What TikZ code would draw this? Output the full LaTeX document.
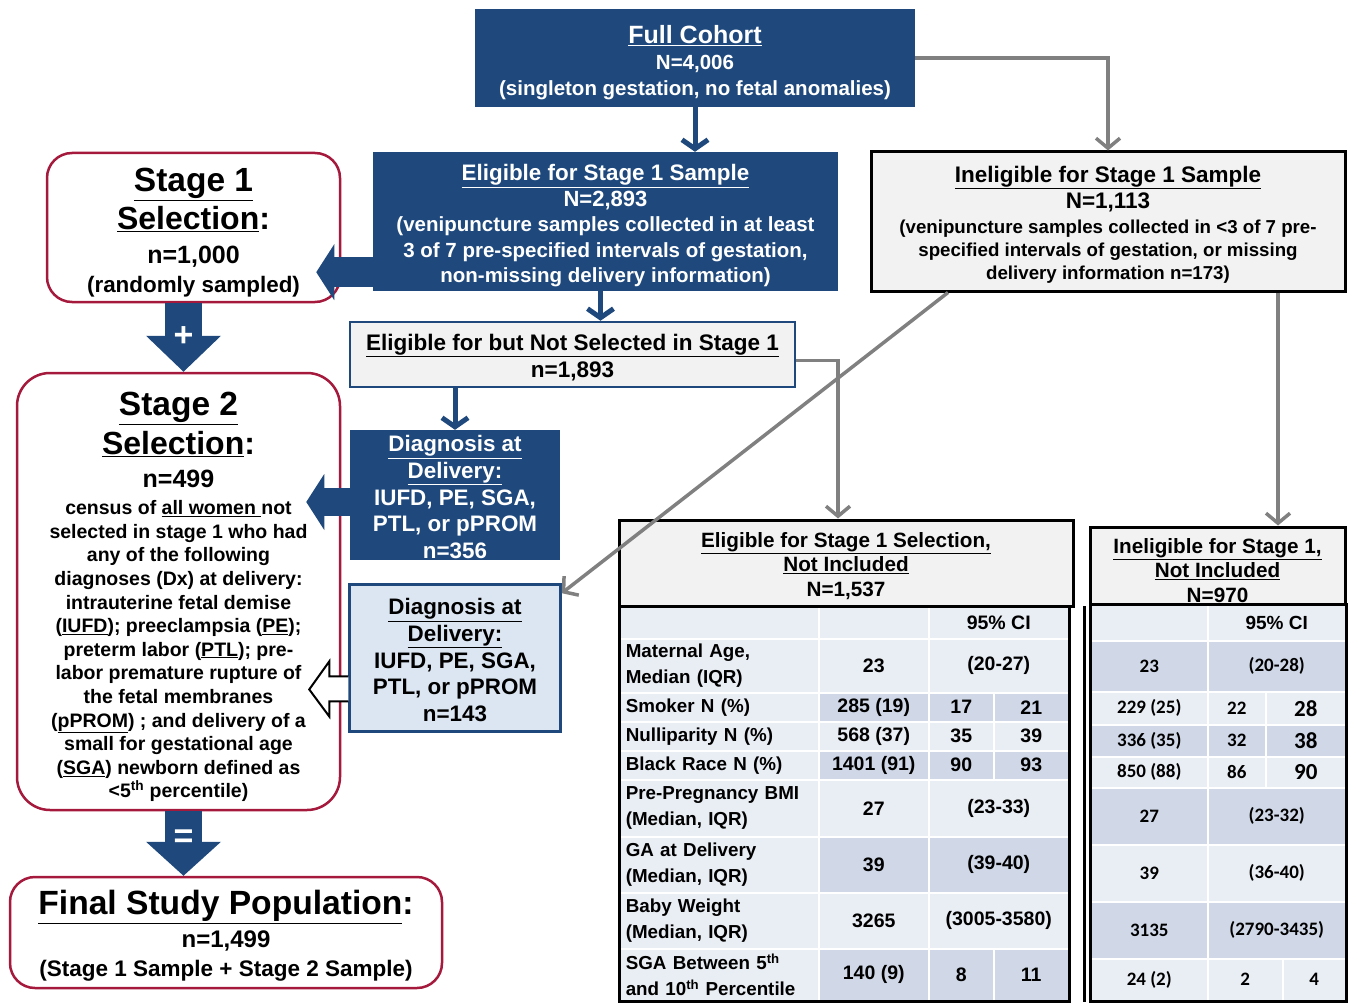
\documentclass[tikz,border=0pt]{standalone}
\usepackage{fontspec}
\setmainfont{Liberation Sans}
\newfontfamily\califont{Carlito}
\usetikzlibrary{arrows.meta,positioning,calc}

\definecolor{boxblue}{RGB}{31,73,125}
\definecolor{stagered}{RGB}{165,25,60}
\definecolor{arrgray}{RGB}{128,128,128}
\definecolor{boxgray}{RGB}{242,242,242}
\definecolor{dxlight}{RGB}{220,230,242}
\definecolor{tlite}{RGB}{233,237,244}
\definecolor{tmid}{RGB}{208,216,232}

\newcommand{\fsz}[2]{\fontsize{#1}{#2}\selectfont}
\newcommand{\topstrut}[1]{\rule{0pt}{#1}}
\lineskiplimit=-100pt

\tikzset{
  darkbox/.style={fill=boxblue, text=white, inner sep=0pt, align=center},
  lightbox/.style={draw=boxblue, line width=2.5pt, fill=boxgray, inner sep=0pt, align=center},
  dxbox/.style={draw=boxblue, line width=2.5pt, fill=dxlight, inner sep=0pt, align=center},
  blackbox/.style={draw=black, line width=3pt, fill=boxgray, inner sep=0pt, align=center},
  stagebox/.style={draw=stagered, line width=2.5pt, fill=white, inner sep=0pt, align=center},
  hdbox/.style={blackbox, font=\bfseries\fsz{20.7}{24.5}},
  tcell/.style={draw=white, line width=1.5pt, inner sep=0pt, anchor=north west, font=\bfseries\fsz{19.5}{23}},
  tlabel/.style={tcell, fill=tlite, minimum width=199pt, inner xsep=6pt, text width=187pt, align=left, font=\bfseries\fsz{18.8}{26}},
  tcell2/.style={tcell, font=\califont\bfseries\fsz{19}{23}},
  tframe/.style={draw=black, line width=3pt},
  bluearrow/.style={boxblue, line width=5pt, -{Straight Barb[length=9pt,width=26pt]}},
  grayarrow/.style={arrgray, line width=3.5pt, -{Straight Barb[length=10pt,width=24pt]}},
  openarrow/.style={draw=black, line width=2pt, fill=white}
}

\begin{document}
\begin{tikzpicture}[x=1pt,y=-1pt]
\useasboundingbox (0,0) rectangle (1352,1003);

\node[darkbox, minimum width=440pt, minimum height=98pt, font=\bfseries\fsz{20.5}{26}] (cohort) at (695,58)
  {\topstrut{28pt}{\fsz{25}{0}\underline{Full Cohort}}\\N=4,006\\(singleton gestation, no fetal anomalies)};

\node[darkbox, minimum width=465pt, minimum height=139pt, font=\bfseries\fsz{20.5}{25.5}] (elig) at (605.5,221.5)
  {\topstrut{24.5pt}{\fsz{22.4}{0}\underline{Eligible for Stage 1 Sample}}\\
   {\fsz{22}{0}N=2,893}\\
   (venipuncture samples collected in at least\\
   3 of 7 pre-specified intervals of gestation,\\
   non-missing delivery information)};

\node[blackbox, minimum width=474pt, minimum height=139pt, font=\bfseries\fsz{18.7}{23}] (inel) at (1108,221.5)
  {\topstrut{22.5pt}{\fsz{22.5}{0}\underline{Ineligible for Stage 1 Sample}}\\[3pt]
   {\fsz{22.5}{0}N=1,113}\\[2pt]
   (venipuncture samples collected in <3 of 7 pre-\\
   specified intervals of gestation, or missing\\
   delivery information n=173)};

\node[stagebox, rounded corners=25pt, minimum width=293pt, minimum height=149pt, font=\bfseries\fsz{22.4}{29}] (st1) at (193.5,227.5)
  {\topstrut{34.5pt}{\fsz{33.5}{0}\underline{Stage 1}}\\[9pt]
   {\fsz{32}{0}\underline{Selection}:}\\[5pt]
   {\fsz{25}{0}n=1,000}\\
   (randomly sampled)};

\node[lightbox, minimum width=445pt, minimum height=65pt, font=\bfseries\fsz{22.5}{27}] (ns) at (572.5,354.5)
  {\topstrut{22.5pt}\underline{Eligible for but Not Selected in Stage 1}\\n=1,893};

\node[darkbox, minimum width=210pt, minimum height=130pt, font=\bfseries\fsz{22.4}{26.7}] (d1) at (455,495)
  {\topstrut{20.5pt}\underline{Diagnosis at}\\\underline{Delivery:}\\IUFD, PE, SGA,\\PTL, or pPROM\\n=356};
\node[dxbox, minimum width=211pt, minimum height=147pt, font=\bfseries\fsz{22.4}{26.7}] (d2) [below=23pt of d1]
  {\topstrut{20.5pt}\underline{Diagnosis at}\\\underline{Delivery:}\\IUFD, PE, SGA,\\PTL, or pPROM\\n=143};

\node[stagebox, rounded corners=33pt, minimum width=323pt, minimum height=437pt, font=\bfseries\fsz{19.5}{23.6}] (st2) at (178.5,591.5)
  {\topstrut{34.5pt}{\fsz{33.5}{0}\underline{Stage 2}}\\[15.4pt]
   {\fsz{32}{0}\underline{Selection}:}\\[9.4pt]
   {\fsz{25}{0}n=499}\\[3.4pt]
   census of \underline{all women\ }not\\
   selected in stage 1 who had\\
   any of the following\\
   diagnoses (Dx) at delivery:\\
   intrauterine fetal demise\\
   (\underline{IUFD}); preeclampsia (\underline{PE});\\
   preterm labor (\underline{PTL}); pre-\\
   labor premature rupture of\\
   the fetal membranes\\
   (\underline{pPROM}) ; and delivery of a\\
   small for gestational age\\
   (\underline{SGA}) newborn defined as\\
   <5\textsuperscript{th} percentile)};

\node[stagebox, rounded corners=25pt, minimum width=432pt, minimum height=111pt, font=\bfseries\fsz{22.5}{29}] (final) at (226,932.5)
  {\topstrut{30.5pt}{\fsz{33.6}{0}\underline{Final Study Population}:}\\[4pt]
   {\fsz{24}{0}n=1,499}\\
   (Stage 1 Sample + Stage 2 Sample)};

\node[hdbox, minimum width=454pt, minimum height=86pt] (t1head) at (846,563)
  {\topstrut{21pt}\underline{Eligible for Stage 1 Selection,}\\\underline{Not Included}\\N=1,537};
\node[hdbox, minimum width=255pt, minimum height=77pt] (t2head) at (1217.5,565.5)
  {\topstrut{25pt}\underline{Ineligible for Stage 1,}\\\underline{Not Included}\\N=970};

\foreach \ya/\hh/\lab/\val/\ci/\shade in {
  606/32/{}/{}/{95\% CI}/tlite,
  638/54/{Maternal Age,\\Median (IQR)}/{23}/{(20-27)}/tlite,
  779/57/{Pre-Pregnancy BMI\\(Median, IQR)}/{27}/{(23-33)}/tlite,
  836/56/{GA at Delivery\\(Median, IQR)}/{39}/{(39-40)}/tmid,
  892/56/{Baby Weight\\(Median, IQR)}/{3265}/{(3005-3580)}/tlite}
{
  \node[tlabel, minimum height=\hh pt] (t1l\ya) at (619,\ya) {\lab};
  \node[tcell, fill=\shade, minimum width=110pt, minimum height=\hh pt] (t1v\ya) at (818,\ya) {\val};
  \node[tcell, fill=\shade, minimum width=140pt, minimum height=\hh pt] (t1c\ya) at (928,\ya) {\ci};
}
\foreach \ya/\hh/\lab/\val/\lo/\hi/\shade in {
  692/29/{Smoker N (\%)}/{285 (19)}/17/21/tmid,
  721/29/{Nulliparity N (\%)}/{568 (37)}/35/39/tlite,
  750/29/{Black Race N (\%)}/{1401 (91)}/90/93/tmid,
  948/52/{SGA Between 5\textsuperscript{th}\\and 10\textsuperscript{th} Percentile}/{140 (9)}/8/11/tmid}
{
  \node[tlabel, minimum height=\hh pt] (t1l\ya) at (619,\ya) {\lab};
  \node[tcell, fill=\shade, minimum width=110pt, minimum height=\hh pt] (t1v\ya) at (818,\ya) {\val};
  \node[tcell, fill=\shade, minimum width=65pt, minimum height=\hh pt] (t1o\ya) at (928,\ya) {\lo};
  \node[tcell, fill=\shade, minimum width=75pt, minimum height=\hh pt] (t1h\ya) at (993,\ya) {\hi};
}
\draw[tframe] (t1l606.north west) rectangle (t1h948.south east);
\draw[line width=2.5pt] ([xshift=15pt]t1c606.north east) -- ([xshift=15pt]t1c606.north east |- t1h948.south east);

\foreach \ya/\hh/\val/\ci/\shade in {
  604/36/{}/{\rmfamily 95\% CI}/tlite,
  640/51/23/{(20-28)}/tmid,
  787/57/27/{(23-32)}/tmid,
  844/57/39/{(36-40)}/tlite,
  901/57/3135/{(2790-3435)}/tmid}
{
  \node[tcell2, fill=\shade, minimum width=117pt, minimum height=\hh pt] (t2v\ya) at (1090,\ya) {\val};
  \node[tcell2, fill=\shade, minimum width=138pt, minimum height=\hh pt] (t2c\ya) at (1207,\ya) {\ci};
}
\foreach \ya/\hh/\val/\lo/\hi/\lw/\shade in {
  691/33/{229 (25)}/22/{\fsz{23}{0}28}/58/tlite,
  724/32/{336 (35)}/32/{\fsz{23}{0}38}/58/tmid,
  756/31/{850 (88)}/86/{\fsz{23}{0}90}/58/tlite,
  958/42/{24 (2)}/2/4/75/tlite}
{
  \node[tcell2, fill=\shade, minimum width=117pt, minimum height=\hh pt] (t2v\ya) at (1090,\ya) {\val};
  \node[tcell2, fill=\shade, minimum width=\lw pt, minimum height=\hh pt] (t2o\ya) at (1207,\ya) {\lo};
  \node[tcell2, fill=\shade, minimum width={(138-\lw)*1pt}, minimum height=\hh pt] (t2h\ya) at ({1207+\lw},\ya) {\hi};
}
\draw[tframe] (t2v604.north west) rectangle (t2h958.south east);

\draw[bluearrow] (cohort.south) -- (cohort.south |- elig.north);
\draw[bluearrow] ([xshift=-5pt]elig.south) -- ([xshift=-5pt]elig.south |- ns.north);
\draw[bluearrow] (ns.south -| d1.north) -- (d1.north);

\draw[grayarrow] (cohort.east) -| (inel.north);
\draw[grayarrow] ([yshift=-6pt]ns.east) -| ([xshift=-8pt]t1head.north);
\draw[grayarrow] ([xshift=170pt]inel.south) -- ([xshift=170pt]inel.south |- t2head.north);
\draw[grayarrow] ([xshift=-160pt]inel.south) -- ([yshift=-10pt]d2.north east);

\draw[boxblue, line width=30pt, shorten >=-25pt, -{Triangle[length=18pt,width=56pt,line width=0pt]}]
  ([yshift=19pt]elig.south west) -- ([yshift=19pt]elig.south west -| st1.east);
\draw[boxblue, line width=28pt, shorten >=-35pt, -{Triangle[length=18pt,width=56pt,line width=0pt]}]
  ([yshift=-7pt]d1.west) -- ([yshift=-7pt]d1.west -| st2.east);
\draw[openarrow] ([yshift=-18.5pt]d2.west) -- ++(-19,0) -- ++(0,-15) -- ++(-20,28) -- ++(20,27) -- ++(0,-15) -- ++(19,0);

\draw[boxblue, line width=37pt, -{Triangle[length=36pt,width=75pt,line width=0pt]}]
  ([xshift=-10pt]st1.south) -- ([xshift=-10pt]st1.south |- st2.north)
  node[pos=0.49, text=white, font=\bfseries\fsz{34}{0}] (plus) {+};
\draw[boxblue, line width=37pt, -{Triangle[length=34pt,width=75pt,line width=0pt]}]
  ([xshift=5pt]st2.south) -- ([xshift=5pt]st2.south |- final.north)
  node[pos=0.42, text=white, font=\bfseries\fsz{34}{0}] (equals) {=};

\end{tikzpicture}
\end{document}
